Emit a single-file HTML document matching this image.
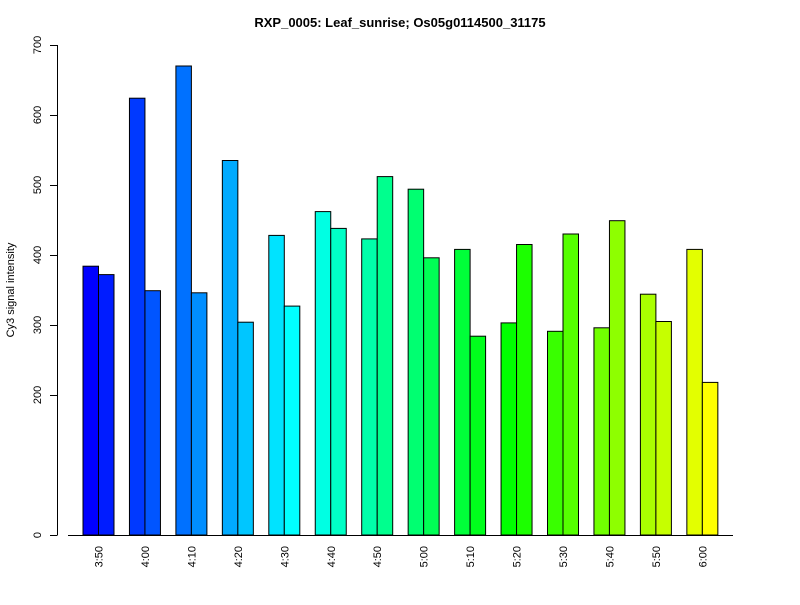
<!DOCTYPE html>
<html><head><meta charset="utf-8"><style>
body{margin:0;background:#fff;font-family:"Liberation Sans",sans-serif}
</style></head><body>
<svg id="c" width="800" height="600" xmlns="http://www.w3.org/2000/svg">
<text x="400" y="27" text-anchor="middle" font-weight="bold" font-size="13">RXP_0005: Leaf_sunrise; Os05g0114500_31175</text>
<text transform="translate(14,290) rotate(-90)" text-anchor="middle" font-size="11">Cy3 signal intensity</text>
<g id="bars"></g><g id="axes"></g>
</svg>
<script>
const categories=["3:50","4:00","4:10","4:20","4:30","4:40","4:50","5:00","5:10","5:20","5:30","5:40","5:50","6:00"];
const seriesA=[384,624,670,535,428,462,423,494,408,303,291,296,344,408];
const seriesB=[372,349,346,304,327,438,512,396,284,415,430,449,305,218];
const yTicks=[0,200,300,400,500,600,700];
const NS="http://www.w3.org/2000/svg";
const svg=document.getElementById('c');
const bars=document.getElementById('bars'),axes=document.getElementById('axes');
const y=v=>535-v*0.7;
const gx=i=>83+i*46.45;
const bw=15.5;
function mk(t,a,p){const e=document.createElementNS(NS,t);for(const k in a)e.setAttribute(k,a[k]);p.appendChild(e);return e;}
const n=categories.length*2;
categories.forEach((c,i)=>{
  [seriesA[i],seriesB[i]].forEach((v,j)=>{
    const k=i*2+j;
    const hue=240-k*180/(n-1);
    const r=mk('rect',{x:gx(i)+j*bw,y:y(v),width:bw,height:y(0)-y(v),fill:`hsl(${hue},100%,50%)`,stroke:'#000','stroke-width':1},bars);
    
    
  });
  const t=mk('text',{transform:`translate(${gx(i)+bw+4},${546}) rotate(-90)`,'text-anchor':'end','font-size':11},axes);
  t.textContent=c;
  
  
});
const xl=mk('line',{x1:68,x2:733,y1:535.5,y2:535.5,stroke:'#000'},axes);


const yl=mk('line',{x1:57.5,x2:57.5,y1:y(700),y2:y(0),stroke:'#000'},axes);


yTicks.forEach(v=>{
  const tk=mk('line',{x1:50,x2:57.5,y1:y(v)+.5,y2:y(v)+.5,stroke:'#000'},axes);
  
  
  const t=mk('text',{transform:`translate(${41},${y(v)}) rotate(-90)`,'text-anchor':'middle','font-size':11},axes);
  t.textContent=v;
  
  
});
</script>
</body></html>
